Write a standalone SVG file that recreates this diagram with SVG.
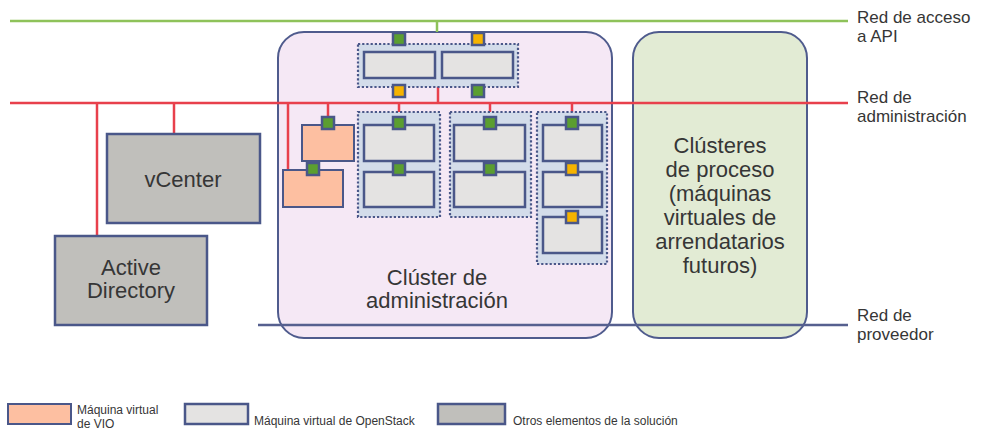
<svg xmlns="http://www.w3.org/2000/svg" width="986" height="436" viewBox="0 0 986 436">
<style>
text{font-family:"Liberation Sans",Arial,sans-serif;fill:#363636}
.big{font-size:22px;text-anchor:middle}
.lbl{font-size:17px}
.leg{font-size:12px}
.vm{fill:#e4e3e2;stroke:#4a5789;stroke-width:2.5}
.vio{fill:#fdbfa1;stroke:#4a5789;stroke-width:2}
.oth{fill:#c0bfbb;stroke:#4a5789;stroke-width:2.5}
.grp{fill:#d3dcea;stroke:#4a5789;stroke-width:2.2;stroke-dasharray:2.2 2}
.g{fill:#5b9e30;stroke:#4a5789;stroke-width:2.5}
.y{fill:#f6b300;stroke:#4a5789;stroke-width:2.5}
.red{stroke:#e8404c;stroke-width:2.5;fill:none}
.grn{stroke:#8ec25a;stroke-width:2.5;fill:none}
.prv{stroke:#56608f;stroke-width:2.5;fill:none}
</style>
<g id="mgmt-cluster">
<rect x="278" y="32" width="334" height="306" rx="26" fill="#f5e8f5" stroke="#4f5b8d" stroke-width="2"/>
<text class="big" x="437" y="285">Clúster de</text>
<text class="big" x="437" y="308">administración</text>
</g>
<g id="compute-cluster">
<rect x="633" y="32" width="174" height="306" rx="26" fill="#e2ebd4" stroke="#4f5b8d" stroke-width="2"/>
<text class="big" x="720" y="153">Clústeres</text>
<text class="big" x="720" y="177">de proceso</text>
<text class="big" x="720" y="201">(máquinas</text>
<text class="big" x="720" y="225">virtuales de</text>
<text class="big" x="720" y="249">arrendatarios</text>
<text class="big" x="720" y="273">futuros)</text>
</g>
<g id="connectors">
<line class="grn" x1="10" y1="21" x2="848" y2="21"/>
<line class="grn" x1="437" y1="21" x2="437" y2="32"/>
<line class="red" x1="10" y1="103" x2="848" y2="103"/>
<line class="red" x1="97" y1="103" x2="97" y2="236"/>
<line class="red" x1="174" y1="103" x2="174" y2="134"/>
<line class="red" x1="288" y1="103" x2="288" y2="170"/>
<line class="red" x1="328" y1="103" x2="328" y2="117"/>
<line class="red" x1="438" y1="87" x2="438" y2="103"/>
<line class="red" x1="399" y1="103" x2="399" y2="112"/>
<line class="red" x1="490" y1="103" x2="490" y2="112"/>
<line class="red" x1="572" y1="103" x2="572" y2="112"/>
<line class="prv" x1="258" y1="325" x2="848" y2="325"/>
</g>
<g id="vcenter">
<rect class="oth" x="107" y="134" width="153" height="89"/>
<text class="big" x="183" y="187">vCenter</text>
</g>
<g id="active-directory">
<rect class="oth" x="55" y="236" width="152" height="89"/>
<text class="big" x="131" y="275">Active</text>
<text class="big" x="131" y="298">Directory</text>
</g>
<g id="top-group">
<rect class="grp" x="358" y="44" width="160" height="43"/>
<rect class="vm" x="364" y="52" width="71" height="26"/>
<rect class="vm" x="442" y="52" width="71" height="26"/>
<rect class="g" x="393" y="33" width="12" height="12"/>
<rect class="y" x="472" y="33" width="12" height="12"/>
<rect class="y" x="393" y="85" width="12" height="12"/>
<rect class="g" x="472" y="85" width="12" height="12"/>
</g>
<g id="vio-1">
<rect class="vio" x="302" y="125" width="52" height="36"/>
<rect class="g" x="322" y="117" width="12" height="12"/>
</g>
<g id="vio-2">
<rect class="vio" x="283" y="170" width="60" height="37"/>
<rect class="g" x="307" y="163" width="12" height="12"/>
</g>
<g id="group-1">
<rect class="grp" x="358" y="112" width="82" height="105"/>
<rect class="vm" x="364" y="125" width="70" height="36"/>
<rect class="vm" x="364" y="172" width="70" height="35"/>
<rect class="g" x="393" y="117" width="12" height="12"/>
<rect class="g" x="393" y="163" width="12" height="12"/>
</g>
<g id="group-2">
<rect class="grp" x="450" y="112" width="81" height="105"/>
<rect class="vm" x="454" y="125" width="71" height="36"/>
<rect class="vm" x="454" y="172" width="71" height="35"/>
<rect class="g" x="484" y="117" width="12" height="12"/>
<rect class="g" x="484" y="163" width="12" height="12"/>
</g>
<g id="group-3">
<rect class="grp" x="537" y="112" width="70" height="152"/>
<rect class="vm" x="543" y="125" width="59" height="36"/>
<rect class="vm" x="543" y="172" width="59" height="35"/>
<rect class="vm" x="543" y="217" width="59" height="36"/>
<rect class="g" x="566" y="117" width="12" height="12"/>
<rect class="y" x="566" y="163" width="12" height="12"/>
<rect class="y" x="566" y="211" width="12" height="12"/>
</g>
<g id="net-labels">
<text class="lbl" x="857" y="23">Red de acceso</text>
<text class="lbl" x="857" y="42">a API</text>
<text class="lbl" x="857" y="103">Red de</text>
<text class="lbl" x="857" y="122">administración</text>
<text class="lbl" x="857" y="321">Red de</text>
<text class="lbl" x="857" y="340">proveedor</text>
</g>
<g id="legend">
<rect class="vio" x="8" y="404" width="63" height="20" stroke-width="2.5"/>
<text class="leg" x="77" y="414">Máquina virtual</text>
<text class="leg" x="77" y="428">de VIO</text>
<rect class="vm" x="185" y="404" width="63" height="20"/>
<text class="leg" x="254" y="425">Máquina virtual de OpenStack</text>
<rect class="oth" x="438" y="404" width="67" height="20"/>
<text class="leg" x="513" y="425">Otros elementos de la solución</text>
</g>
</svg>
